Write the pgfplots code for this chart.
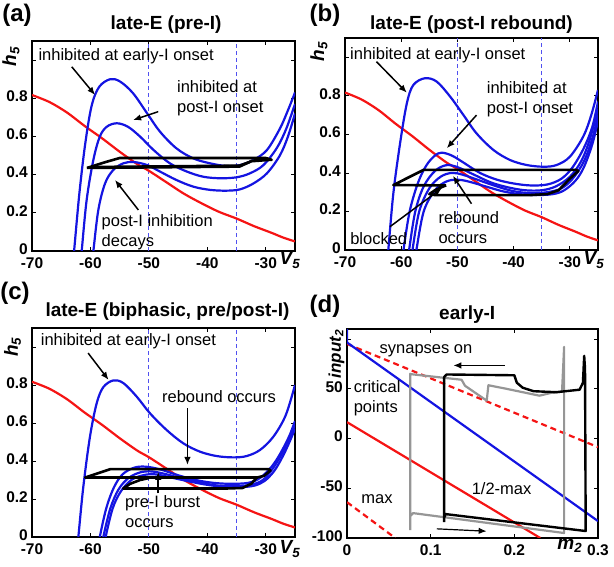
\documentclass[border=0pt]{standalone}
\usepackage{fontspec}
\setmainfont{Liberation Sans}
\usepackage{pgfplots}
\usepackage{pgfplotstable}
\pgfplotsset{compat=1.18}
\usetikzlibrary{arrows.meta}
\definecolor{myblue}{RGB}{20,20,225}
\definecolor{myred}{RGB}{245,20,20}
\definecolor{dashblue}{RGB}{80,80,240}
\definecolor{mygray}{RGB}{150,150,150}

\pgfplotstableread{
V h
-70 0.817
-67 0.78
-64 0.725
-61 0.655
-58 0.59
-55 0.52
-52 0.455
-50 0.42
-47 0.36
-44 0.30
-41 0.25
-38 0.205
-35 0.17
-32 0.13
-29 0.095
-27 0.07
-25 0.05
}\redtab

\pgfplotsset{
  panel/.style={scale only axis, clip=true, clip mode=individual,
    axis line style={line width=1.3pt},
    tick align=inside, major tick length=4pt,
    tick style={black, line width=0.8pt},
    ticklabel style={font=\fontsize{15.5}{16}\selectfont\bfseries, inner sep=1pt},
    xticklabel style={yshift=-5pt},
    yticklabel style={xshift=-3pt, yshift=2pt},
    /pgf/number format/assume math mode=true},
  vpanel/.style={panel, xmin=-70, xmax=-25, ymin=0, ymax=1.1,
    xtick={-70,-60,-50,-40,-30},
    ytick={0,0.2,0.4,0.6,0.8,1}, yticklabels={0,0.2,0.4,0.6,0.8,{}}},
  bl/.style={myblue, line width=2.2pt, smooth, tension=0.55},
  rd/.style={myred, line width=2.2pt, smooth},
  dl/.style={dashblue, line width=0.9pt, dash pattern=on 4pt off 3pt},
  tr/.style={black, line width=2.6pt, line join=round},
}
\tikzset{
  ann/.style={font=\fontsize{16.5}{20}\selectfont, align=left, inner sep=0pt},
  arr/.style={-{Latex[length=8pt,width=6.5pt]}, line width=1.5pt},
  ttl/.style={font=\fontsize{19}{20}\selectfont\bfseries},
  plab/.style={font=\fontsize{24}{24}\selectfont\bfseries},
  alab/.style={font=\fontsize{19}{19}\selectfont\bfseries\itshape},
}

\begin{document}
\begin{tikzpicture}
\useasboundingbox (0,0) rectangle (614pt,567pt);

% ---------------- (a)
\begin{axis}[vpanel, at={(32pt,316pt)}, anchor=south west, width=263pt, height=210pt]
\addplot[dl] coordinates {(-50,0) (-50,1.1)};
\addplot[dl] coordinates {(-35,0) (-35,1.1)};
\addplot[rd] table {\redtab};
\addplot[bl] coordinates {(-63.0,-0.05) (-62.8,0) (-61.9,0.30) (-60.9,0.56) (-59.8,0.76) (-58.5,0.86) (-56.6,0.90) (-54.9,0.887) (-52.7,0.826) (-50.3,0.721) (-48.1,0.625) (-45.3,0.538) (-42.4,0.485) (-39.5,0.459) (-36.7,0.445) (-34.4,0.450) (-32.1,0.477) (-29.8,0.529) (-27.6,0.64) (-26.3,0.73) (-25,0.83)};
\addplot[bl] coordinates {(-61.7,-0.05) (-61.5,0) (-60.65,0.267) (-59.5,0.477) (-58.4,0.599) (-57.2,0.651) (-55.5,0.669) (-53.6,0.651) (-51.5,0.599) (-49.2,0.529) (-46.4,0.459) (-43.5,0.416) (-40.7,0.389) (-37.8,0.381) (-35,0.386) (-32.7,0.407) (-30.4,0.45) (-28.1,0.54) (-26.5,0.64) (-25,0.77)};
\addplot[bl] coordinates {(-59.7,-0.05) (-59.5,0) (-58.65,0.215) (-57.5,0.354) (-56.1,0.424) (-54.4,0.459) (-52.6,0.466) (-50.3,0.45) (-48.1,0.416) (-45.3,0.372) (-42.4,0.337) (-39.5,0.32) (-36.7,0.316) (-34.4,0.323) (-32.1,0.354) (-29.8,0.407) (-27.6,0.50) (-26.2,0.60) (-25,0.72)};
\addplot[tr] coordinates {(-60.6,0.435) (-34.5,0.442) (-32.5,0.47) (-29,0.478) (-30,0.487) (-55,0.487) (-57.5,0.465) (-60.6,0.435)};
\addplot[tr] coordinates {(-59.5,0.44) (-34.5,0.447) (-32.6,0.468)};
\node[ann] at (axis cs:-53.9,1.018) {inhibited at early-I onset};
\draw[arr] (axis cs:-63.2,0.965) -- (axis cs:-59.2,0.817);
\node[ann, anchor=west] at (axis cs:-45.2,0.80) {inhibited at\\post-I onset};
\draw[arr] (axis cs:-48.4,0.73) -- (axis cs:-52.7,0.686);
\node[ann, anchor=west] at (axis cs:-58.1,0.098) {post-I inhibition\\decays};
\draw[arr] (axis cs:-51.8,0.215) -- (axis cs:-55.8,0.372);
\node[ttl] at (rel axis cs:0.51,1) [yshift=16pt] {late-E (pre-I)};
\node[plab] at (rel axis cs:0,1) [xshift=-15pt, yshift=26pt] {(a)};
\node[alab, rotate=90] at (rel axis cs:-0.080,0.927) {h\textsubscript{5}};
\node[alab] at (rel axis cs:0.981,0) [yshift=-9pt] {V\textsubscript{5}};
\end{axis}

% ---------------- (b)
\begin{axis}[vpanel, at={(345pt,317pt)}, anchor=south west, width=253pt, height=212pt]
\addplot[dl] coordinates {(-50,0) (-50,1.1)};
\addplot[dl] coordinates {(-35,0) (-35,1.1)};
\addplot[rd] table {\redtab};
\addplot[bl] coordinates {(-62.5,-0.05) (-62.3,0) (-61.4,0.294) (-60.2,0.554) (-59.0,0.761) (-57.85,0.856) (-55.8,0.891) (-53.7,0.874) (-51.3,0.796) (-48.95,0.701) (-46.6,0.605) (-43.6,0.519) (-40.65,0.467) (-37.7,0.441) (-34.7,0.432) (-32.35,0.441) (-30,0.484) (-27.6,0.59) (-26.2,0.70) (-25,0.83)};
\addplot[bl] coordinates {(-59.8,-0.05) (-59.6,0) (-58.5,0.2) (-57,0.35) (-55.5,0.44) (-54,0.49) (-52.8,0.505) (-51,0.49) (-49,0.455) (-46,0.40) (-43,0.365) (-40,0.345) (-37,0.335) (-34,0.34) (-31.5,0.37) (-29.5,0.43) (-27.5,0.53) (-26,0.64) (-25,0.77)};
\addplot[bl] coordinates {(-58.8,-0.05) (-58.6,0) (-57.5,0.2) (-56,0.33) (-54,0.41) (-52,0.44) (-50,0.43) (-47,0.39) (-44,0.35) (-41,0.325) (-38,0.31) (-35,0.31) (-32.5,0.33) (-30,0.38) (-28,0.46) (-26.5,0.57) (-25,0.73)};
\addplot[bl] coordinates {(-58.2,-0.05) (-58,0) (-56.8,0.2) (-55,0.32) (-53,0.38) (-51,0.40) (-49,0.39) (-46,0.36) (-43,0.33) (-40,0.305) (-37,0.295) (-34,0.30) (-31.5,0.32) (-29.5,0.37) (-27.5,0.46) (-26,0.58) (-25,0.70)};
\addplot[bl] coordinates {(-57.5,-0.05) (-57.3,0) (-56,0.2) (-54,0.31) (-52,0.355) (-50,0.365) (-48,0.355) (-45,0.33) (-42,0.305) (-39,0.29) (-36,0.285) (-33,0.29) (-31,0.31) (-29,0.36) (-27.5,0.43) (-26,0.55) (-25,0.67)};
\addplot[tr] coordinates {(-52,0.335) (-61.4,0.337) (-56,0.416) (-29,0.416) (-28.5,0.41) (-30,0.37) (-32,0.31) (-34,0.29) (-37,0.285) (-54,0.285) (-55,0.29) (-54,0.31) (-52.5,0.33) (-52,0.335)};
\node[ann] at (axis cs:-53.5,1.012) {inhibited at early-I onset};
\draw[arr] (axis cs:-64.4,0.977) -- (axis cs:-59.0,0.816);
\node[ann, anchor=west] at (axis cs:-44.8,0.782) {inhibited at\\post-I onset};
\draw[arr] (axis cs:-46.6,0.70) -- (axis cs:-51.9,0.528);
\node[ann, anchor=west] at (axis cs:-53.4,0.115) {rebound\\occurs};
\draw[arr] (axis cs:-47.5,0.24) -- (axis cs:-50.8,0.385);
\node[ann, anchor=west] at (axis cs:-69.1,0.061) {blocked};
\draw[arr] (axis cs:-62.0,0.121) -- (axis cs:-52.8,0.32);
\node[ttl] at (rel axis cs:0.5,1) [yshift=13pt] {late-E (post-I rebound)};
\node[plab] at (rel axis cs:0,1) [xshift=-20pt, yshift=23pt] {(b)};
\node[alab, rotate=90] at (rel axis cs:-0.103,0.936) {h\textsubscript{5}};
\node[alab] at (rel axis cs:0.984,0) [yshift=-10pt] {V\textsubscript{5}};
\end{axis}

% ---------------- (c)
\begin{axis}[vpanel, at={(32pt,30pt)}, anchor=south west, width=263pt, height=209pt]
\addplot[dl] coordinates {(-50,0) (-50,1.1)};
\addplot[dl] coordinates {(-35,0) (-35,1.1)};
\addplot[rd] table {\redtab};
\addplot[bl] coordinates {(-62.25,-0.05) (-62.07,0) (-61.22,0.264) (-60.08,0.528) (-58.93,0.704) (-57.79,0.789) (-56.08,0.824) (-54.37,0.81) (-52.09,0.739) (-49.81,0.651) (-46.96,0.563) (-44.11,0.493) (-41.25,0.449) (-38.4,0.426) (-35.55,0.419) (-33.27,0.426) (-30.99,0.458) (-28.7,0.528) (-26.6,0.64) (-25,0.80)};
\addplot[bl] coordinates {(-58.6,-0.05) (-58.4,0) (-57.3,0.15) (-56,0.26) (-54.5,0.33) (-52.5,0.365) (-50.5,0.37) (-48,0.355) (-45,0.325) (-42,0.30) (-39,0.285) (-36,0.28) (-33,0.285) (-31,0.31) (-29,0.37) (-27.5,0.44) (-26,0.53) (-25,0.61)};
\addplot[bl] coordinates {(-58.0,-0.05) (-57.8,0) (-56.6,0.15) (-55.2,0.25) (-53.5,0.31) (-51.5,0.34) (-49.5,0.345) (-47,0.33) (-44,0.305) (-41,0.285) (-38,0.27) (-35,0.268) (-32.5,0.275) (-30.5,0.30) (-28.8,0.36) (-27.2,0.44) (-26,0.52) (-25,0.59)};
\addplot[bl] coordinates {(-57.6,-0.05) (-57.4,0) (-56.2,0.15) (-54.8,0.24) (-53,0.30) (-51,0.325) (-49,0.33) (-46.5,0.315) (-43.5,0.295) (-40.5,0.277) (-37.5,0.265) (-34.5,0.262) (-32,0.27) (-30.2,0.295) (-28.5,0.35) (-27,0.43) (-25.8,0.51) (-25,0.57)};
\addplot[tr] coordinates {(-50.5,0.313) (-60.9,0.313) (-56.6,0.357) (-29.5,0.357) (-29.2,0.35) (-30.3,0.322) (-31.5,0.313) (-50.5,0.313)};
\addplot[tr] coordinates {(-31.5,0.313) (-32.5,0.28) (-34,0.258) (-37,0.255) (-54.4,0.255) (-53.2,0.28) (-51.5,0.30) (-50,0.31)};
\node[ann] at (axis cs:-53.5,1.03) {inhibited at early-I onset};
\draw[arr] (axis cs:-60.4,0.968) -- (axis cs:-56.9,0.827);
\node[ann] at (axis cs:-38.0,0.739) {rebound occurs};
\draw[arr] (axis cs:-43.4,0.678) -- (axis cs:-43.4,0.379);
\node[ann, anchor=west] at (axis cs:-54.1,0.135) {pre-I burst\\occurs};
\draw[arr] (axis cs:-48.4,0.229) -- (axis cs:-48.4,0.343);
\node[ttl] at (rel axis cs:0.515,1) [yshift=16.5pt] {late-E (biphasic, pre/post-I)};
\node[plab] at (rel axis cs:0,1) [xshift=-17pt, yshift=35pt] {(c)};
\node[alab, rotate=90] at (rel axis cs:-0.074,0.909) {h\textsubscript{5}};
\node[alab] at (rel axis cs:0.981,0) [yshift=-12pt] {V\textsubscript{5}};
\end{axis}

% ---------------- (d)
\begin{axis}[panel, at={(347pt,29pt)}, anchor=south west, width=251pt, height=209pt,
  xmin=0, xmax=0.3, ymin=-100, ymax=110,
  xtick={0,0.1,0.2,0.3}, ytick={-100,-50,0,50,100}, yticklabels={-100,-50,0,50,{}}]
\addplot[myred, line width=2.2pt] coordinates {(0,16.4) (0.231,-100)};
\addplot[myred, line width=2.2pt, dash pattern=on 6pt off 4pt] coordinates {(0,95) (0.3,-8.7)};
\addplot[myred, line width=2.2pt, dash pattern=on 6pt off 4pt] coordinates {(0,-64) (0.0576,-100)};
\addplot[myblue, line width=2.2pt] coordinates {(0,110) (0,96.5) (0.3,-83)};
\addplot[mygray, line width=2.2pt, line join=round] coordinates {(0.0755,-92) (0.0755,65) (0.0775,64.5) (0.137,59) (0.141,53) (0.167,38) (0.169,53.5) (0.19,50) (0.23,43) (0.245,46) (0.257,47) (0.2595,92) (0.2595,-95) (0.079,-75) (0.0755,-78)};
\addplot[black, line width=2.4pt, line join=round] coordinates {(0.116,-84) (0.116,61.6) (0.119,64.3) (0.2,63.5) (0.203,56) (0.21,51) (0.223,47.5) (0.25,46.5) (0.278,49) (0.282,56) (0.2835,83) (0.2845,70) (0.2853,-93) (0.118,-76) (0.116,-80)};
\node[ann] at (axis cs:0.0944,88.4) {synapses on};
\draw[arr] (axis cs:0.1888,73.4) -- (axis cs:0.127,73.4);
\node[ann, anchor=west] at (axis cs:0.0079,40.8) {critical\\points};
\node[ann] at (axis cs:0.0358,-60.6) {max};
\node[ann] at (axis cs:0.1848,-50.6) {1/2-max};
\draw[arr, line width=1.2pt] (axis cs:0.1073,-90.8) -- (axis cs:0.1669,-93.2);
\node[ttl] at (rel axis cs:0.479,1) [yshift=14pt] {early-I};
\node[plab] at (rel axis cs:0,1) [xshift=-22pt, yshift=22.6pt] {(d)};
\node[font=\fontsize{17}{17}\selectfont\bfseries\itshape, rotate=90, anchor=south, inner sep=1pt] at (rel axis cs:-0.006,0.88) {input\textsubscript{2}};
\node[alab] at (rel axis cs:0.888,0) [yshift=-8pt] {m\textsubscript{2}};
\end{axis}
\end{tikzpicture}
\end{document}
